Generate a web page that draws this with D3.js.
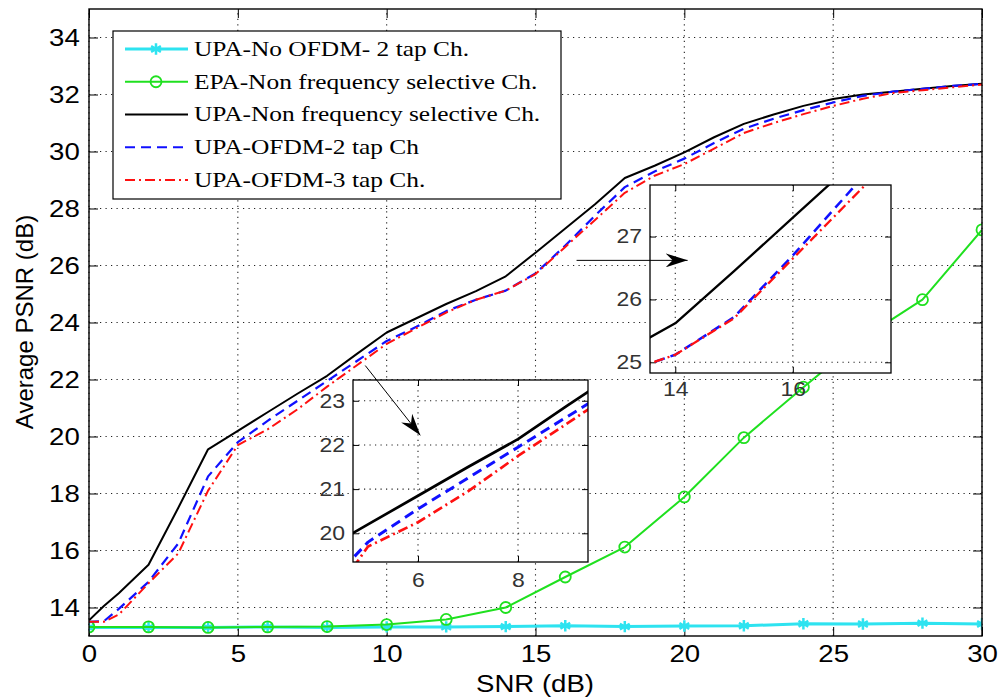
<!DOCTYPE html>
<html>
<head>
<meta charset="utf-8">
<title>Average PSNR vs SNR</title>
<script src="https://cdn.jsdelivr.net/npm/d3@7"></script>
<style>
  body { margin: 0; background: #fff; }
  svg text { font-family: Arial, "Liberation Sans", sans-serif; }
</style>
</head>
<body>
<svg id="chart" width="1003" height="700"></svg>
<script>
  // SNR points (dB) of the three upper curves
  var snr = [0, 0.5, 1, 2, 3, 4, 5, 6, 7, 8, 9, 10, 11, 12, 13, 14, 15, 16, 17, 18, 19, 20, 21, 22, 23, 24, 25, 26, 27, 28, 29, 30];
  var upaNonSel = [13.55, 14.05, 14.5, 15.5, 17.5, 19.55, 20.2, 20.85, 21.5, 22.13, 22.9, 23.65, 24.15, 24.65, 25.1, 25.62, 26.45, 27.3, 28.15, 29.07, 29.5, 29.97, 30.5, 30.97, 31.3, 31.6, 31.84, 32.0, 32.1, 32.2, 32.3, 32.38];
  var upaOfdm2 = [13.5, 13.52, 13.95, 14.9, 16.25, 18.6, 19.8, 20.55, 21.25, 21.95, 22.65, 23.35, 23.85, 24.4, 24.8, 25.12, 25.72, 26.7, 27.75, 28.75, 29.3, 29.75, 30.3, 30.8, 31.15, 31.45, 31.72, 31.95, 32.1, 32.2, 32.3, 32.37];
  var upaOfdm3 = [13.5, 13.5, 13.75, 14.85, 15.9, 18.1, 19.7, 20.25, 20.95, 21.75, 22.5, 23.25, 23.8, 24.35, 24.8, 25.12, 25.7, 26.65, 27.6, 28.55, 29.15, 29.56, 30.1, 30.65, 31.0, 31.31, 31.6, 31.85, 32.05, 32.15, 32.25, 32.35];

  // SNR points (dB) of the two marked curves
  var snrMarks = [0, 2, 4, 6, 8, 10, 12, 14, 16, 18, 20, 22, 24, 26, 28, 30];
  var upaNoOfdm = [13.3, 13.3, 13.3, 13.32, 13.3, 13.32, 13.32, 13.33, 13.36, 13.33, 13.35, 13.36, 13.43, 13.42, 13.45, 13.42];
  var epaNonSel = [13.32, 13.32, 13.3, 13.32, 13.33, 13.4, 13.58, 14.0, 15.07, 16.12, 17.88, 19.96, 21.73, 23.45, 24.8, 27.25];

  var legendNames = ['UPA-No OFDM- 2 tap Ch.', 'EPA-Non frequency selective Ch.', 'UPA-Non frequency selective Ch.', 'UPA-OFDM-2 tap Ch', 'UPA-OFDM-3 tap Ch.'];

  var xTicks = [0, 5, 10, 15, 20, 25, 30];
  var yTicks = [14, 16, 18, 20, 22, 24, 26, 28, 30, 32, 34];

  // zoomed views (domains) and their ticks
  var zoom1X = [4.7, 9.4], zoom1Y = [19.35, 23.47], zoom1XTicks = [6, 8], zoom1YTicks = [20, 21, 22, 23];
  var zoom2X = [13.57, 17.67], zoom2Y = [24.83, 27.82], zoom2XTicks = [14, 16], zoom2YTicks = [25, 26, 27];

  var series = [
    { name: legendNames[0], xs: snrMarks, ys: upaNoOfdm, color: '#2ee3f0', width: 3, dash: null, marker: 'star' },
    { name: legendNames[1], xs: snrMarks, ys: epaNonSel, color: '#1fe01f', width: 2, dash: null, marker: 'circle' },
    { name: legendNames[2], xs: snr, ys: upaNonSel, color: '#000', width: 2, dash: null, marker: null },
    { name: legendNames[3], xs: snr, ys: upaOfdm2, color: '#1010ff', width: 2.2, dash: '10,6', marker: null },
    { name: legendNames[4], xs: snr, ys: upaOfdm3, color: '#ff1010', width: 2, dash: '10,4,2,4', marker: null }
  ];

  var svg = d3.select('#chart');
  svg.append('rect').attr('width', 1003).attr('height', 700).attr('fill', '#fff');

  var defs = svg.append('defs');
  defs.append('marker')
    .attr('id', 'arrowHead')
    .attr('viewBox', '0 0 22 14')
    .attr('markerUnits', 'userSpaceOnUse')
    .attr('markerWidth', 22).attr('markerHeight', 14)
    .attr('refX', 22).attr('refY', 7)
    .attr('orient', 'auto')
    .append('path')
    .attr('d', 'M0,0 L22,7 L0,14 L7,7 Z')
    .attr('fill', '#000');

  var TEXT_STRETCH = 'scale(1.15,1)';

  function drawPanel(g, xs, ys, opt) {
    var x0 = xs.range()[0], x1 = xs.range()[1];
    var y0 = ys.range()[0], y1 = ys.range()[1];

    g.append('rect')
      .attr('x', x0).attr('y', y1).attr('width', x1 - x0).attr('height', y0 - y1)
      .attr('fill', '#fff');

    // dotted grid
    g.append('g').selectAll('line').data(opt.xTicks).join('line')
      .attr('x1', d => xs(d)).attr('x2', d => xs(d))
      .attr('y1', y0).attr('y2', y1)
      .attr('stroke', '#222').attr('stroke-width', 1.1).attr('stroke-dasharray', '1.2,4.3');
    g.append('g').selectAll('line').data(opt.yTicks).join('line')
      .attr('x1', x0).attr('x2', x1)
      .attr('y1', d => ys(d)).attr('y2', d => ys(d))
      .attr('stroke', '#222').attr('stroke-width', 1.1).attr('stroke-dasharray', '1.2,4.3');

    // ticks on all four sides, labels bottom + left
    var ax = [
      { a: d3.axisBottom(xs).tickValues(opt.xTicks), t: `translate(0,${y0})`, labels: true },
      { a: d3.axisTop(xs).tickValues(opt.xTicks), t: `translate(0,${y1})`, labels: false },
      { a: d3.axisLeft(ys).tickValues(opt.yTicks), t: `translate(${x0},0)`, labels: true },
      { a: d3.axisRight(ys).tickValues(opt.yTicks), t: `translate(${x1},0)`, labels: false }
    ];
    ax.forEach(function (o, i) {
      var pad = i < 2 ? opt.padX : opt.padY;
      var axg = g.append('g').attr('transform', o.t)
        .call(o.a.tickSizeInner(-opt.tick).tickSizeOuter(0).tickPadding(pad).tickFormat(d3.format('d')));
      axg.select('.domain').remove();
      axg.selectAll('.tick line').attr('stroke', '#000').attr('stroke-width', 1);
      axg.attr('font-family', null).attr('font-size', null);
      if (o.labels) {
        axg.selectAll('.tick text')
          .attr('fill', opt.labelColor)
          .style('font-size', opt.fontSize + 'px')
          .attr('transform', TEXT_STRETCH);
      } else {
        axg.selectAll('.tick text').remove();
      }
    });
  }

  function drawSeries(g, xs, ys, list, clipId, widthScale) {
    var line = d3.line().x(d => xs(d[0])).y(d => ys(d[1]));
    var cg = g.append('g').attr('clip-path', `url(#${clipId})`);
    list.forEach(function (s) {
      var pts = s.xs.map((v, i) => [v, s.ys[i]]);
      cg.append('path')
        .attr('d', line(pts))
        .attr('fill', 'none')
        .attr('stroke', s.color)
        .attr('stroke-width', s.width * widthScale)
        .attr('stroke-dasharray', s.dash)
        .attr('stroke-linejoin', 'round');
      if (s.marker) drawMarkers(cg, pts.map(p => [xs(p[0]), ys(p[1])]), s);
    });
  }

  function drawMarkers(g, pixelPts, s) {
    var sym = s.marker === 'star' ? d3.symbolAsterisk : d3.symbolCircle;
    var size = s.marker === 'star' ? 90 : 95;
    g.append('g').selectAll('path').data(pixelPts).join('path')
      .attr('transform', d => `translate(${d[0]},${d[1]})`)
      .attr('d', d3.symbol(sym, size))
      .attr('fill', 'none')
      .attr('stroke', s.color)
      .attr('stroke-width', s.marker === 'star' ? 2.5 : 1.8);
  }

  function addClip(id, xs, ys) {
    defs.append('clipPath').attr('id', id).append('rect')
      .attr('x', xs.range()[0]).attr('y', ys.range()[1])
      .attr('width', xs.range()[1] - xs.range()[0])
      .attr('height', ys.range()[0] - ys.range()[1]);
  }

  // ---- main axes
  var x = d3.scaleLinear().domain([0, 30]).range([89, 982]);
  var y = d3.scaleLinear().domain([13, 35]).range([636, 9]);
  addClip('clipMain', x, y);

  var main = svg.append('g');
  drawPanel(main, x, y, { xTicks: xTicks, yTicks: yTicks, tick: 9, padX: 9, padY: 8, fontSize: 24, labelColor: '#000' });
  drawSeries(main, x, y, series, 'clipMain', 1);
  main.append('rect')
    .attr('x', 89).attr('y', 9).attr('width', 982 - 89).attr('height', 636 - 9)
    .attr('fill', 'none').attr('stroke', '#000').attr('stroke-width', 1.4);

  main.append('text')
    .attr('transform', 'translate(535,692) ' + TEXT_STRETCH)
    .attr('text-anchor', 'middle')
    .style('font-size', '24px')
    .text('SNR (dB)');

  main.append('text')
    .attr('transform', 'translate(33,322) rotate(-90)')
    .attr('text-anchor', 'middle')
    .style('font-size', '24px')
    .text('Average PSNR (dB)');

  // ---- legend
  var legend = main.append('g');
  legend.append('rect')
    .attr('x', 113).attr('y', 31).attr('width', 448).attr('height', 168)
    .attr('fill', '#fff').attr('stroke', '#000').attr('stroke-width', 1.2);
  var rowY = d3.scaleLinear().domain([0, 4]).range([49, 180]);
  series.forEach(function (s, i) {
    var ry = rowY(i);
    legend.append('line')
      .attr('x1', 125).attr('x2', 188).attr('y1', ry).attr('y2', ry)
      .attr('stroke', s.color).attr('stroke-width', s.width)
      .attr('stroke-dasharray', s.dash);
    if (s.marker) drawMarkers(legend, [[156, ry]], s);
    legend.append('text')
      .attr('transform', `translate(194,${ry}) scale(1.24,1)`)
      .attr('dy', '0.33em')
      .style('font-family', '"Liberation Serif", "Times New Roman", serif')
      .style('font-size', '20.5px')
      .text(s.name);
  });

  // ---- zoomed insets
  var insets = [
    { box: [353, 380, 588, 562], xd: zoom1X, yd: zoom1Y, xt: zoom1XTicks, yt: zoom1YTicks, padX: 11, padY: 7, lw: 1.35, arrow: [[9.28, 22.49], [11.13, 20.04]] },
    { box: [650, 185, 891, 373], xd: zoom2X, yd: zoom2Y, xt: zoom2XTicks, yt: zoom2YTicks, padX: 9, padY: 7, lw: 1.15, arrow: [[16.38, 26.18], [20.11, 26.18]] }
  ];

  insets.forEach(function (ins, k) {
    var xs = d3.scaleLinear().domain(ins.xd).range([ins.box[0], ins.box[2]]);
    var ys = d3.scaleLinear().domain(ins.yd).range([ins.box[3], ins.box[1]]);
    var id = 'clipInset' + k;
    addClip(id, xs, ys);
    var g = svg.append('g');
    drawPanel(g, xs, ys, { xTicks: ins.xt, yTicks: ins.yt, tick: 6, padX: ins.padX, padY: ins.padY, fontSize: 20, labelColor: '#333' });
    drawSeries(g, xs, ys, series.slice(2), id, ins.lw);
    g.append('rect')
      .attr('x', ins.box[0]).attr('y', ins.box[1])
      .attr('width', ins.box[2] - ins.box[0]).attr('height', ins.box[3] - ins.box[1])
      .attr('fill', 'none').attr('stroke', '#000').attr('stroke-width', 1.3);
  });

  // arrows pointing from the main curves to the zoomed views
  insets.forEach(function (ins) {
    svg.append('line')
      .attr('x1', x(ins.arrow[0][0])).attr('y1', y(ins.arrow[0][1]))
      .attr('x2', x(ins.arrow[1][0])).attr('y2', y(ins.arrow[1][1]))
      .attr('stroke', '#000').attr('stroke-width', 1)
      .attr('marker-end', 'url(#arrowHead)');
  });
</script>
</body>
</html>
